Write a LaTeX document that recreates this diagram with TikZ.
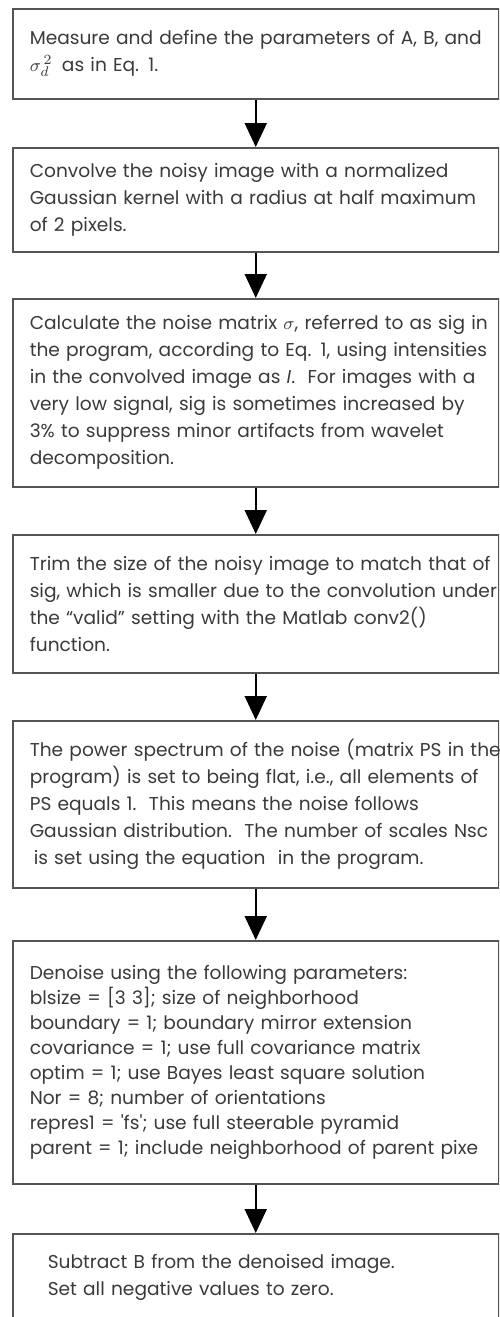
\documentclass[tikz,border=0pt]{standalone}
\usepackage{fontspec}
\setmainfont{Poppins}
\usetikzlibrary{arrows.meta}
\definecolor{boxgray}{HTML}{555555}
\definecolor{textgray}{HTML}{3A3A3A}
\begin{document}
\begin{tikzpicture}
  [x=0.5pt,y=-0.5pt,
   every node/.style={draw=boxgray,line width=0.75pt,rectangle,anchor=north west,
     text=textgray,text width=226pt,inner xsep=8.5pt,inner ysep=0pt,align=left,
     font=\fontsize{9.3}{13.5}\selectfont,
     execute at begin node={\rightskip=-30pt plus 1fil}}]
  \clip (0,0) rectangle (499,1317);
  \node (s1) at (12,8)    [minimum height=45pt]
    {Measure and define the parameters of A, B, and\\ $\sigma_d^{\,2}$\, as in Eq. 1.};
  \node (s2) at (12,147)  [minimum height=52pt]
    {Convolve the noisy image with a normalized\\ Gaussian kernel with a radius at half maximum\\ of 2 pixels.};
  \node (s3) at (12,298)  [minimum height=94pt]
    {Calculate the noise matrix $\sigma$, referred to as sig in\\ the program, according to Eq. 1, using intensities\\ in the convolved image as {\itshape I}.\ \ For images with a\\ very low signal, sig is sometimes increased by\\ 3\% to suppress minor artifacts from wavelet\\ decomposition.};
  \node (s4) at (12,534)  [minimum height=69pt]
    {Trim the size of the noisy image to match that of\\ sig, which is smaller due to the convolution under\\ the “valid” setting with the Matlab conv2()\\ function.};
  \node (s5) at (12,720)  [minimum height=83.5pt]
    {The power spectrum of the noise (matrix PS in the\\ program) is set to being flat, i.e., all elements of\\ PS equals 1.\ \ This means the noise follows\\ Gaussian distribution.\ \ The number of scales Nsc\\ \hspace*{2pt}is set using the equation\ \ in the program.};
  \node (s6) at (12,940)  [minimum height=121.5pt,font=\fontsize{9.3}{12.5}\selectfont]
    {Denoise using the following parameters:\\ blsize = [3 3]; size of neighborhood\\ boundary = 1; boundary mirror extension\\ covariance = 1; use full covariance matrix\\ optim = 1; use Bayes least square solution\\ Nor = 8; number of orientations\\ repres1 = \textquotesingle fs\textquotesingle; use full steerable pyramid\\ parent = 1; include neighborhood of parent pixe};
  \node (s7) at (12,1233) [minimum height=43.5pt,text width=208pt,inner xsep=17.5pt]
    {Subtract B from the denoised image.\\ Set all negative values to zero.};

  \foreach \from/\to in {s1/s2,s2/s3,s3/s4,s4/s5,s5/s6,s6/s7}
    \draw[line width=1pt,-{Triangle[width=11pt,length=12pt]}] (\from) -- (\to);

\end{tikzpicture}
\end{document}
